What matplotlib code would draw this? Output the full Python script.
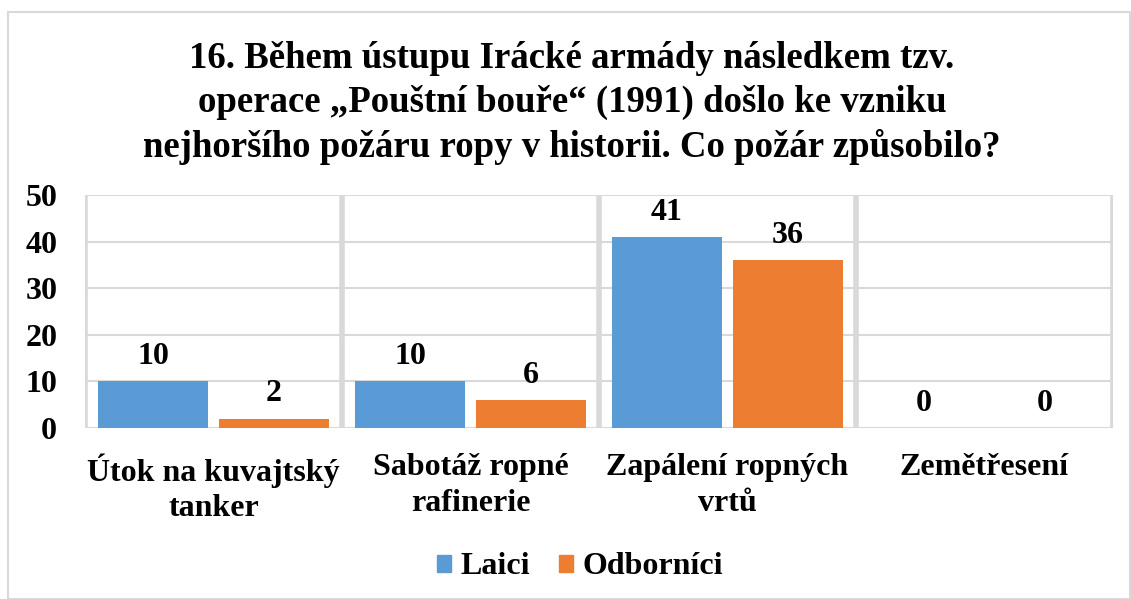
import numpy as np
import matplotlib.pyplot as plt
from matplotlib.patches import Rectangle

categories = ["Útok na kuvajtský\ntanker", "Sabotáž ropné\nrafinerie",
              "Zapálení ropných\nvrtů", "Zemětřesení"]
laici = [10, 10, 41, 0]
odbornici = [2, 6, 36, 0]
series_names = ["Laici", "Odborníci"]
title = ("16. Během ústupu Irácké armády následkem tzv.\n"
         "operace „Pouštní bouře“ (1991) došlo ke vzniku\n"
         "nejhoršího požáru ropy v historii. Co požár způsobilo?")

plt.rcParams['font.family'] = ['Liberation Serif', 'DejaVu Serif']
plt.rcParams['font.weight'] = 'bold'

blue = '#5b9bd5'
orange = '#ed7d31'
grid = '#d9d9d9'
fs = 23

fig = plt.figure(figsize=(11.31, 5.99), dpi=100)
ax = fig.add_axes([85 / 1131, 1 - 428 / 599, 1028 / 1131, 233 / 599])

x = np.arange(len(categories))
w = 0.428
off = 0.2355
ax.bar(x - off, laici, w, color=blue, zorder=3)
ax.bar(x + off, odbornici, w, color=orange, zorder=3)

for xi, v in zip(x - off, laici):
    ax.text(xi, v + 2.2, str(v), ha='center', va='bottom', fontsize=fs, fontweight='bold')
for xi, v in zip(x + off, odbornici):
    ax.text(xi, v + 2.2, str(v), ha='center', va='bottom', fontsize=fs, fontweight='bold')

ax.set_xlim(-0.5, len(categories) - 0.5)
ax.set_ylim(0, 50)
ax.set_yticks(range(0, 51, 10))
ax.yaxis.grid(True, color=grid, linewidth=1.5, zorder=0)
for b in np.arange(-0.5, len(categories), 1.0):
    ax.axvline(b, color=grid, linewidth=4, zorder=1)
for s in ax.spines.values():
    s.set_visible(False)
ax.axhline(0, color=grid, linewidth=1.5, zorder=2)

ax.set_xticks(x)
ax.set_xticklabels(categories, fontsize=fs, fontweight='bold', linespacing=1.3)
ax.tick_params(axis='both', length=0, labelsize=fs)
ax.tick_params(axis='x', pad=18)
ax.tick_params(axis='y', pad=20)
for lab in ax.get_yticklabels():
    lab.set_fontweight('bold')

fig.text(572 / 1131, 1 - 103 / 599, title, ha='center', va='center',
         fontsize=26.5, fontweight='bold', linespacing=1.33)

handles = [Rectangle((0, 0), 1, 1, color=blue), Rectangle((0, 0), 1, 1, color=orange)]
fig.legend(handles, series_names, loc='center', bbox_to_anchor=(580 / 1131, 1 - 567 / 599),
           ncol=2, frameon=False, prop={'size': fs, 'weight': 'bold'},
           handlelength=0.45, handleheight=0.45, handletextpad=0.3, columnspacing=0.9)

fig.patches.append(Rectangle((8 / 1131, 0), 1 - 8 / 1131 - 0.001, 1 - 12 / 599,
                             transform=fig.transFigure, fill=False,
                             edgecolor=grid, linewidth=1.5))

fig.savefig('out.png', dpi=100)
